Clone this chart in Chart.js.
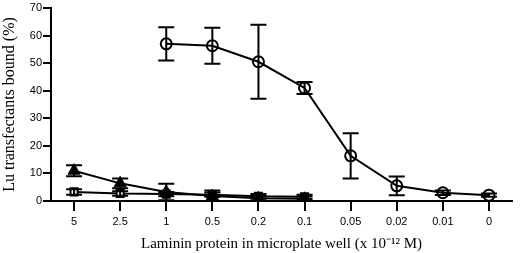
<!DOCTYPE html>
<html>
<head>
<meta charset="utf-8">
<script src="https://cdn.jsdelivr.net/npm/chart.js@4/dist/chart.umd.min.js"></script>
<style>
  html, body { margin: 0; padding: 0; background: #fff; }
  #wrap { width: 520px; height: 253px; }
</style>
</head>
<body>
<div id="wrap"><canvas id="chart"></canvas></div>
<script>
// laminin concentration (x 10^-12 M)
const concentrations = ['5', '2.5', '1', '0.5', '0.2', '0.1', '0.05', '0.02', '0.01', '0'];

// open circles
const circleValues = [null, null, 57, 56.3, 50.5, 41, 16.4, 5.5, 3.0, 2.1];
const circleErrors = [null, null, 6, 6.5, 13.4, 2.2, 8.2, 3.4, 0.8, 0.6];

// filled triangles
const triangleValues = [11, 6.4, 3.3, 1.8, 1.0, 0.8, null, null, null, null];
const triangleErrors = [2, 1.8, 3, 2, 0.8, 0.8, null, null, null, null];

// open squares
const squareValues = [3.3, 2.7, 2.5, 2.3, 1.7, 1.5, null, null, null, null];
const squareErrors = [1, 0.8, 0.8, 0.8, 0.8, 0.8, null, null, null, null];

const yTicks = [0, 10, 20, 30, 40, 50, 60, 70];

// draws the error bars from each dataset's "errors" array, through the chart scales
const errorBars = {
  id: 'errorBars',
  afterDatasetsDraw(chart) {
    const ctx = chart.ctx;
    const x = chart.scales.x;
    const y = chart.scales.y;
    ctx.save();
    ctx.strokeStyle = '#000';
    ctx.lineWidth = 2;
    chart.data.datasets.forEach(ds => {
      ds.data.forEach((v, i) => {
        const e = ds.errors[i];
        if (v == null || e == null) return;
        const px = x.getPixelForValue(i);
        const top = y.getPixelForValue(v + e);
        const bot = y.getPixelForValue(Math.max(v - e, 0));
        ctx.beginPath();
        ctx.moveTo(px, top); ctx.lineTo(px, bot);
        ctx.moveTo(px - 8, top); ctx.lineTo(px + 8, top);
        ctx.moveTo(px - 8, bot); ctx.lineTo(px + 8, bot);
        ctx.stroke();
      });
    });
    ctx.restore();
  }
};

new Chart(document.getElementById('chart'), {
  type: 'line',
  data: {
    labels: concentrations,
    datasets: [
      {
        label: 'circles',
        data: circleValues,
        errors: circleErrors,
        borderColor: '#000',
        borderWidth: 2,
        pointStyle: 'circle',
        pointRadius: 5.5,
        pointBorderWidth: 2,
        pointBackgroundColor: 'rgba(255,255,255,0)',
        pointBorderColor: '#000',
        tension: 0
      },
      {
        label: 'triangles',
        data: triangleValues,
        errors: triangleErrors,
        borderColor: '#000',
        borderWidth: 2,
        pointStyle: 'triangle',
        pointRadius: 7,
        pointBorderWidth: 1,
        pointBackgroundColor: '#000',
        pointBorderColor: '#000',
        tension: 0
      },
      {
        label: 'squares',
        data: squareValues,
        errors: squareErrors,
        borderColor: '#000',
        borderWidth: 2,
        pointStyle: 'rect',
        pointRadius: 5,
        pointBorderWidth: 2,
        pointBackgroundColor: '#fff',
        pointBorderColor: '#000',
        tension: 0
      }
    ]
  },
  options: {
    responsive: true,
    maintainAspectRatio: false,
    animation: false,
    layout: { padding: { top: 5, right: 1, left: 0, bottom: 0 } },
    plugins: {
      legend: { display: false },
      tooltip: { enabled: false }
    },
    scales: {
      x: {
        type: 'category',
        offset: true,
        border: { display: true, color: '#000', width: 2 },
        grid: { drawOnChartArea: false, drawTicks: true, tickLength: 10, color: '#000', lineWidth: 2 },
        ticks: { color: '#000', font: { family: 'Liberation Sans', size: 11 }, padding: 4, maxRotation: 0 },
        title: {
          display: true,
          text: 'Laminin protein in microplate well (x 10\u207B\u00B9\u00B2 M)',
          color: '#000',
          font: { family: 'Liberation Serif', size: 15 },
          padding: { top: 3, bottom: 0 }
        },
        afterFit(scale) { scale.height = 52; }
      },
      y: {
        min: 0,
        max: 70,
        afterBuildTicks(scale) { scale.ticks = yTicks.map(v => ({ value: v })); },
        border: { display: true, color: '#000', width: 2 },
        grid: { drawOnChartArea: false, drawTicks: true, tickLength: 8, color: '#000', lineWidth: 2 },
        ticks: { color: '#000', font: { family: 'Liberation Sans', size: 11 }, padding: 1 },
        title: {
          display: true,
          text: 'Lu transfectants bound (%)',
          color: '#000',
          font: { family: 'Liberation Serif', size: 16 },
          padding: { top: 0, bottom: 2 }
        },
        afterFit(scale) { scale.width = 51; }
      }
    }
  },
  plugins: [errorBars]
});
</script>
</body>
</html>
